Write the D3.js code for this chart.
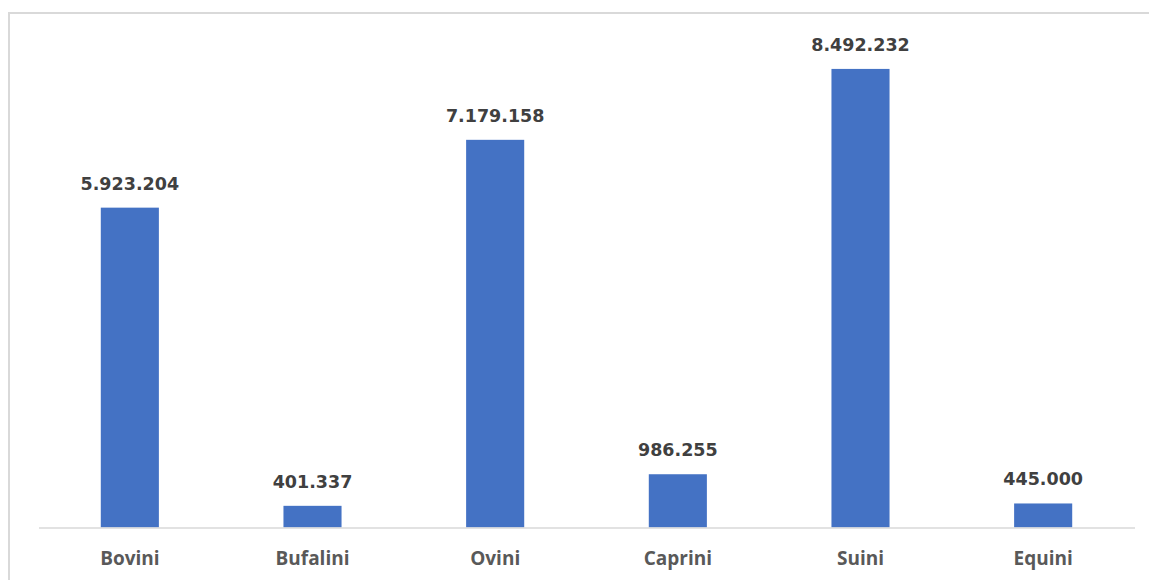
<!DOCTYPE html>
<html>
<head>
<meta charset="utf-8">
<script src="https://cdn.jsdelivr.net/npm/d3@7"></script>
<style>
  html, body { margin: 0; padding: 0; background: #ffffff; }
  svg { display: block; }
</style>
</head>
<body>
<svg id="chart" width="1149" height="580"></svg>
<script>
// Livestock head counts by species
const categories = ["Bovini", "Bufalini", "Ovini", "Caprini", "Suini", "Equini"];
const values = [5923204, 401337, 7179158, 986255, 8492232, 445000];

const W = 1149, H = 580;
const svg = d3.select("#chart");

// chart area frame
svg.append("rect")
  .attr("x", 9).attr("y", 13)
  .attr("width", 1200).attr("height", 700)
  .attr("fill", "none")
  .attr("stroke", "#d9d9d9")
  .attr("stroke-width", 2);

const x = d3.scaleBand()
  .domain(categories)
  .range([38.5, 1134.5])
  .paddingInner(0.682)
  .paddingOuter(0.341);

const y = d3.scaleLinear()
  .domain([0, 9000000])
  .range([527.5, 41.5]);

const fmt = v => d3.format(",")(v).replace(/,/g, ".");

// bars
svg.append("g")
  .selectAll("rect")
  .data(values)
  .join("rect")
  .attr("x", (d, i) => x(categories[i]))
  .attr("y", d => y(d))
  .attr("width", x.bandwidth())
  .attr("height", d => y(0) - y(d))
  .attr("fill", "#4472c4");

// category axis
const axis = svg.append("g")
  .attr("transform", `translate(0,${y(0)})`)
  .call(d3.axisBottom(x).tickSize(0).tickPadding(0));
axis.select(".domain")
  .attr("stroke", "#d9d9d9")
  .attr("stroke-width", 1.5);
axis.selectAll(".tick text")
  .attr("dy", null)
  .attr("y", 37.5)
  .attr("font-family", "'Open Sans', sans-serif")
  .attr("font-weight", "bold")
  .attr("font-size", "19px")
  .attr("fill", "#595959");

// value labels
svg.append("g")
  .selectAll("text")
  .data(values)
  .join("text")
  .attr("x", (d, i) => x(categories[i]) + x.bandwidth() / 2)
  .attr("y", d => y(d) - 18)
  .attr("text-anchor", "middle")
  .attr("font-family", "'DejaVu Sans', sans-serif")
  .attr("font-weight", "bold")
  .attr("font-size", "17.5px")
  .attr("fill", "#404040")
  .text(d => fmt(d));
</script>
</body>
</html>
